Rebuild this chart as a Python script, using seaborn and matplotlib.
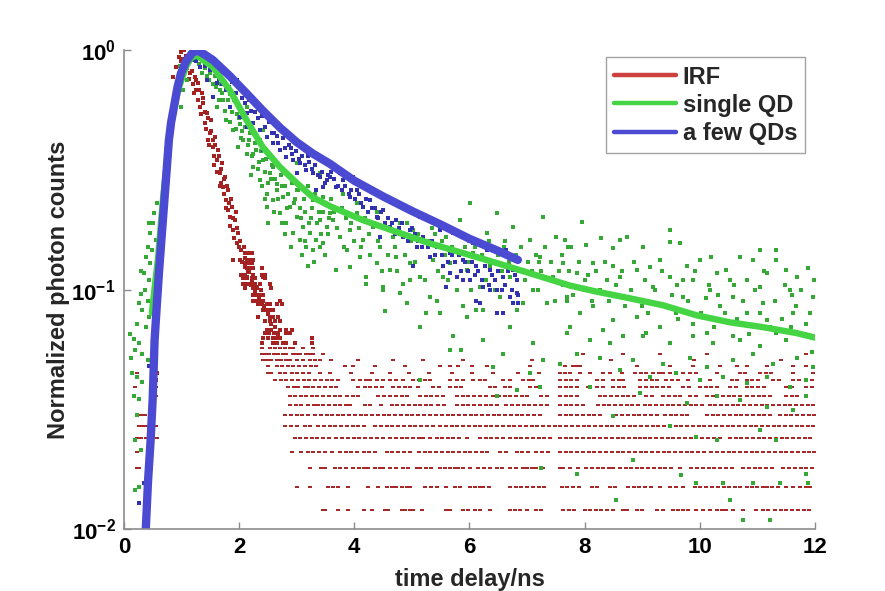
import numpy as np
import pandas as pd
import matplotlib
matplotlib.use("Agg")
import matplotlib.pyplot as plt
from matplotlib.lines import Line2D
from matplotlib.ticker import FuncFormatter, NullFormatter, LogLocator, FixedLocator
import seaborn as sns

# ---------------- data ----------------
series_names = ["IRF", "single QD", "a few QDs"]
x_ticks = [0, 2, 4, 6, 8, 10, 12]
y_ticks = [0.01, 0.1, 1.0]

# IRF: quantised photon counts (1 count = 0.003 of the normalised peak)
irf_count_unit = 0.003
irf_n4 = [3.46, 3.50, 3.72, 3.89, 4.16, 4.30, 4.53, 4.59, 4.82, 4.88, 4.97, 5.02, 5.17, 5.60, 5.66, 5.89, 5.98, 6.09, 6.18, 6.35, 6.70, 6.79, 6.88, 6.99, 7.16, 7.25, 7.62, 7.72, 7.82, 8.00, 8.10, 8.20, 8.29, 8.38, 8.50, 8.67, 8.73, 8.90, 9.00, 9.25, 9.36, 9.54, 9.62, 9.70, 9.80, 9.94, 10.06, 10.17, 10.29, 10.38, 10.46, 10.58, 10.75, 10.98, 11.10, 11.19, 11.30, 11.40, 11.50, 11.60, 11.70, 11.80, 11.90]
irf_n5 = [0.26, 3.00, 3.23, 3.55, 3.63, 3.72, 3.89, 4.24, 4.42, 4.56, 4.65, 4.73, 4.82, 4.91, 4.97, 5.23, 5.33, 5.43, 5.60, 5.75, 5.83, 6.01, 6.09, 6.18, 6.24, 6.33, 6.70, 6.80, 6.90, 7.00, 7.10, 7.20, 7.30, 7.60, 7.70, 7.80, 7.90, 8.12, 8.22, 8.44, 8.52, 8.75, 8.85, 8.95, 9.05, 9.15, 9.30, 9.48, 9.59, 9.71, 9.91, 10.01, 10.11, 10.21, 10.31, 10.41, 10.51, 10.61, 10.69, 10.81, 10.90, 11.00, 11.10, 11.16, 11.26, 11.36, 11.50, 11.62, 11.74, 11.84, 11.92]
irf_n6 = [0.23, 0.27, 3.23, 3.43, 3.49, 3.66, 3.76, 3.86, 3.98, 4.08, 4.16, 4.24, 4.36, 4.44, 4.50, 4.62, 4.73, 4.85, 4.94, 5.08, 5.14, 5.25, 5.34, 5.49, 5.57, 5.66, 5.75, 5.80, 5.89, 6.01, 6.15, 6.25, 6.35, 6.47, 6.57, 6.70, 6.80, 6.93, 6.99, 7.08, 7.16, 7.28, 7.57, 7.63, 7.74, 7.89, 8.03, 8.13, 8.23, 8.32, 8.42, 8.49, 8.61, 8.71, 8.80, 8.90, 9.00, 9.10, 9.20, 9.30, 9.40, 9.50, 9.65, 9.85, 9.95, 10.05, 10.15, 10.25, 10.35, 10.45, 10.55, 10.75, 10.85, 10.95, 11.05, 11.15, 11.25, 11.45, 11.55, 11.65, 11.75, 11.85, 11.95]
irf_n7 = [0.23, 2.91, 3.08, 3.20, 3.29, 3.39, 3.49, 3.61, 3.75, 3.85, 3.95, 4.05, 4.16, 4.26, 4.36, 4.56, 4.66, 4.76, 4.86, 4.96, 5.12, 5.22, 5.32, 5.42, 5.52, 5.62, 5.72, 5.82, 5.92, 6.01, 6.11, 6.21, 6.31, 6.53, 6.63, 6.82, 6.92, 7.02, 7.16, 7.26, 7.36, 7.57, 7.67, 7.77, 7.87, 7.97, 8.07, 8.17, 8.27, 8.37, 8.47, 8.57, 8.67, 8.77, 8.87, 8.97, 9.07, 9.17, 9.27, 9.37, 9.47, 9.57, 9.67, 9.77, 9.87, 9.97, 10.07, 10.20, 10.30, 10.40, 10.50, 10.60, 10.70, 10.80, 10.90, 11.00, 11.10, 11.20, 11.30, 11.40, 11.50, 11.60, 11.70, 11.80, 11.90, 11.98]
irf_n8 = [0.23, 0.30, 0.38, 0.58, 2.97, 3.06, 3.17, 3.26, 3.35, 3.46, 3.56, 3.69, 3.79, 3.89, 3.99, 4.09, 4.19, 4.29, 4.39, 4.50, 4.62, 4.72, 4.82, 4.92, 5.02, 5.12, 5.20, 5.31, 5.43, 5.52, 5.62, 5.72, 5.82, 5.95, 6.18, 6.28, 6.38, 6.48, 6.58, 6.70, 6.80, 6.90, 7.00, 7.11, 7.20, 7.30, 7.40, 7.57, 7.67, 7.77, 7.87, 7.97, 8.07, 8.17, 8.27, 8.37, 8.47, 8.57, 8.67, 8.77, 8.87, 8.96, 9.04, 9.14, 9.24, 9.34, 9.44, 9.54, 9.64, 9.74, 9.84, 9.94, 10.04, 10.14, 10.24, 10.35, 10.52, 10.62, 10.72, 10.82, 10.92, 11.02, 11.12, 11.22, 11.32, 11.42, 11.52, 11.62, 11.72, 11.82, 11.92]
irf_n9 = [0.26, 0.33, 0.40, 0.55, 2.80, 2.90, 3.00, 3.14, 3.23, 3.37, 3.47, 3.57, 3.67, 3.77, 3.87, 3.97, 4.07, 4.17, 4.36, 4.46, 4.56, 4.66, 4.76, 4.86, 4.96, 5.06, 5.16, 5.26, 5.36, 5.49, 5.59, 5.69, 5.79, 5.89, 5.99, 6.09, 6.18, 6.28, 6.38, 6.48, 6.58, 6.68, 6.78, 6.88, 6.98, 7.08, 7.18, 7.28, 7.38, 7.48, 7.58, 7.68, 7.78, 7.88, 7.98, 8.08, 8.18, 8.28, 8.38, 8.48, 8.58, 8.68, 8.78, 8.88, 8.98, 9.08, 9.18, 9.28, 9.38, 9.48, 9.58, 9.68, 9.78, 9.88, 9.98, 10.08, 10.18, 10.28, 10.38, 10.48, 10.58, 10.68, 10.78, 10.88, 10.98, 11.08, 11.18, 11.28, 11.38, 11.48, 11.58, 11.68, 11.78, 11.88, 11.97]
irf_n10 = [0.23, 0.30, 0.37, 2.80, 2.90, 3.00, 3.10, 3.20, 3.32, 3.42, 3.52, 3.62, 3.72, 3.81, 3.91, 4.01, 4.11, 4.21, 4.31, 4.41, 4.51, 4.61, 4.71, 4.81, 4.91, 5.01, 5.11, 5.21, 5.31, 5.41, 5.52, 5.62, 5.72, 5.82, 5.92, 6.02, 6.12, 6.22, 6.32, 6.42, 6.52, 6.62, 6.72, 6.82, 6.92, 7.02, 7.12, 7.22, 7.57, 7.67, 7.77, 7.87, 7.97, 8.07, 8.17, 8.27, 8.55, 8.65, 8.75, 8.85, 8.95, 9.05, 9.15, 9.25, 9.39, 9.49, 9.59, 9.69, 9.77, 10.12, 10.22, 10.32, 10.42, 10.52, 10.62, 10.72, 10.82, 10.92, 11.02, 11.12, 11.22, 11.39, 11.49, 11.59, 11.69, 11.79, 11.89, 11.98]
irf_n11 = [0.52, 2.88, 2.98, 3.08, 3.20, 3.30, 3.37, 3.46, 3.56, 3.66, 3.75, 3.85, 3.92, 4.18, 4.28, 4.47, 4.65, 4.75, 4.85, 4.95, 5.05, 5.14, 5.25, 5.34, 5.46, 5.56, 5.78, 5.88, 5.98, 6.08, 6.18, 6.28, 6.38, 6.48, 6.64, 6.74, 6.84, 6.94, 7.04, 7.14, 7.24, 7.34, 7.57, 7.67, 7.77, 7.87, 7.97, 8.23, 8.33, 8.43, 8.53, 8.63, 8.73, 8.83, 8.93, 9.04, 9.14, 9.24, 9.34, 9.44, 9.54, 9.64, 9.74, 9.84, 9.94, 10.04, 10.17, 10.27, 10.37, 10.47, 10.57, 10.67, 10.77, 10.87, 10.97, 11.07, 11.16, 11.27, 11.37, 11.47, 11.57, 11.67, 11.77, 11.87, 11.97]
irf_n12 = [0.55, 2.88, 2.97, 3.07, 3.17, 3.26, 3.36, 3.46, 3.56, 3.66, 3.75, 3.87, 3.97, 4.07, 4.42, 4.52, 4.62, 4.72, 4.82, 4.92, 5.14, 5.24, 5.34, 5.44, 5.54, 5.78, 5.88, 5.98, 6.08, 6.18, 6.28, 6.41, 6.51, 6.61, 6.71, 6.81, 6.91, 6.99, 7.25, 7.34, 7.57, 7.67, 7.77, 7.87, 8.26, 8.36, 8.46, 8.56, 8.66, 8.76, 8.86, 9.07, 9.17, 9.36, 9.46, 9.56, 9.65, 9.83, 9.93, 10.12, 10.22, 10.29, 10.40, 10.50, 10.60, 10.70, 10.81, 10.92, 11.02, 11.12, 11.22, 11.50, 11.60, 11.68]
irf_n13 = [0.20, 0.55, 2.85, 2.95, 3.03, 3.14, 3.20, 3.29, 3.38, 3.49, 3.59, 3.69, 4.07, 4.18, 4.28, 4.38, 4.48, 4.68, 4.78, 4.88, 4.97, 5.11, 5.37, 5.47, 5.66, 5.76, 5.86, 6.35, 6.45, 6.61, 6.70, 7.05, 7.15, 7.57, 7.67, 7.77, 7.86, 8.06, 8.21, 8.31, 8.49, 8.59, 8.69, 8.96, 9.06, 9.16, 9.25, 9.36, 9.46, 9.71, 9.81, 10.00, 10.10, 10.20, 10.29, 10.52, 10.62, 10.81, 10.91, 11.01, 11.11, 11.50, 11.60, 11.85, 11.95]
irf_n14 = [0.55, 2.62, 2.72, 2.82, 2.92, 3.02, 3.12, 3.22, 3.32, 3.42, 3.52, 3.62, 3.72, 3.98, 4.10, 4.20, 4.27, 4.39, 4.50, 4.62, 4.73, 4.85, 5.02, 5.12, 5.22, 5.32, 5.66, 5.78, 5.89, 6.06, 6.18, 6.27, 6.59, 6.70, 6.93, 7.03, 7.11, 7.57, 7.67, 7.77, 7.86, 8.21, 8.32, 8.49, 8.59, 8.67, 8.96, 9.06, 9.16, 9.26, 9.42, 9.52, 9.62, 9.80, 10.17, 10.55, 10.64, 10.81, 10.91, 11.01, 11.27, 11.37, 11.62, 11.72, 11.85, 11.95]
irf_n15 = [0.23, 0.58, 2.51, 2.56, 2.71, 2.80, 2.91, 3.01, 3.11, 3.21, 3.40, 3.58, 3.95, 4.30, 4.62, 4.95, 5.30, 5.70, 6.05, 6.40, 6.85, 7.20, 7.57, 7.65, 7.74, 7.92, 8.09, 8.32, 8.44, 8.64, 8.87, 8.97, 9.07, 9.19, 9.29, 9.36, 9.48, 9.71, 9.83, 9.94, 10.29, 10.69, 10.79, 11.04, 11.14, 11.24, 11.62, 11.97]
irf_n16 = [2.51, 2.65, 2.75, 2.85, 2.94, 3.04, 3.14, 3.24, 3.34, 3.84, 3.98, 4.36, 4.88, 5.49, 5.66, 5.80, 6.04, 6.30, 7.05, 7.66, 7.80, 7.86, 7.92, 8.90, 9.48, 9.88, 10.12, 10.35, 10.64, 10.81, 11.16, 11.62, 11.85]
irf_n17 = [2.42, 2.48, 2.56, 2.65, 2.73, 2.81, 2.88, 3.00, 3.11, 3.23, 3.32, 3.40, 3.60, 4.07, 4.68, 5.20, 5.89, 7.08, 8.45, 9.90, 11.40]
irf_n18 = [2.39, 2.45, 2.52, 2.60, 2.68, 2.76, 2.82, 2.94, 3.00, 3.06, 3.17, 3.23, 3.29, 3.46, 7.97, 8.67, 9.30, 10.12, 11.85]
irf_n19 = [2.40, 2.53, 2.62, 2.71, 2.80, 2.88, 2.94, 3.11, 3.29]

# IRF peak and decay (time ns, normalised counts)
irf_decay_pts = [(0.58, 0.045), (0.55, 0.042), (0.85, 0.77), (0.90, 0.85), (0.95, 0.94), (1.00, 0.98), (1.02, 0.92), (1.05, 1.0), (1.07, 0.95), (1.03, 0.85),
                 (1.09, 0.91), (1.15, 0.80), (1.12, 0.88), (1.23, 0.77), (1.29, 0.73), (1.26, 0.68), (1.20, 0.72), (1.35, 0.66), (1.38, 0.60), (1.32, 0.58),
                 (1.44, 0.545), (1.41, 0.495), (1.52, 0.51), (1.49, 0.45), (1.46, 0.42), (1.58, 0.434), (1.55, 0.394), (1.64, 0.382), (1.61, 0.347), (1.57, 0.36),
                 (1.70, 0.337), (1.67, 0.306), (1.75, 0.295), (1.72, 0.268), (1.68, 0.28), (1.81, 0.26), (1.78, 0.236), (1.87, 0.222), (1.84, 0.201), (1.80, 0.215),
                 (1.93, 0.195), (1.90, 0.177), (1.98, 0.172), (1.96, 0.156), (2.04, 0.146), (2.01, 0.133), (1.90, 0.133), (2.10, 0.124), (2.13, 0.113), (2.22, 0.110),
                 (2.30, 0.103), (2.42, 0.113), (2.10, 0.142), (2.16, 0.142), (2.22, 0.142), (2.13, 0.133), (2.19, 0.133), (2.25, 0.133), (2.10, 0.129), (2.16, 0.129),
                 (2.22, 0.129), (2.13, 0.123), (2.19, 0.123), (2.25, 0.123), (2.39, 0.123), (2.04, 0.115), (2.10, 0.115), (2.25, 0.115), (2.39, 0.115), (2.45, 0.115),
                 (2.07, 0.112), (2.13, 0.112), (2.22, 0.112), (2.28, 0.112), (2.45, 0.112), (2.07, 0.106), (2.14, 0.106), (2.21, 0.106), (2.28, 0.106), (2.36, 0.106),
                 (2.53, 0.106), (2.10, 0.102), (2.25, 0.102), (2.31, 0.102), (2.56, 0.102), (2.25, 0.095), (2.31, 0.095), (2.36, 0.095), (2.42, 0.095), (2.25, 0.090),
                 (2.31, 0.090), (2.37, 0.090), (2.42, 0.090), (2.71, 0.090), (2.33, 0.087), (2.40, 0.087), (2.48, 0.087), (2.53, 0.087), (2.65, 0.087), (2.74, 0.087),
                 (2.42, 0.082), (2.48, 0.082), (2.53, 0.082), (2.59, 0.082), (2.33, 0.077), (2.53, 0.077), (2.59, 0.077), (2.68, 0.077), (2.45, 0.074), (2.53, 0.074),
                 (2.62, 0.074), (2.71, 0.074), (2.48, 0.068), (2.56, 0.068), (2.71, 0.068), (2.82, 0.068), (2.91, 0.068), (2.45, 0.066), (2.52, 0.066), (2.60, 0.066),
                 (2.65, 0.066), (2.82, 0.066), (2.88, 0.066), (2.42, 0.063), (2.50, 0.063), (2.58, 0.063), (2.65, 0.063), (2.71, 0.063), (3.26, 0.063), (2.39, 0.060),
                 (2.59, 0.060), (2.65, 0.060), (2.77, 0.060), (2.82, 0.060), (2.97, 0.060), (3.26, 0.060)]
irf_decay_more = [(1.00, 0.90), (1.05, 0.88), (1.10, 0.84), (1.13, 0.76), (1.18, 0.82), (1.22, 0.66), (1.25, 0.75), (1.28, 0.62), (1.31, 0.68), (1.34, 0.54),
                  (1.37, 0.63), (1.40, 0.55), (1.43, 0.47), (1.46, 0.52), (1.48, 0.40), (1.51, 0.46), (1.54, 0.42), (1.56, 0.33), (1.59, 0.40), (1.62, 0.31),
                  (1.65, 0.36), (1.66, 0.27), (1.69, 0.32), (1.73, 0.25), (1.74, 0.29), (1.77, 0.22), (1.79, 0.27), (1.82, 0.23), (1.85, 0.185), (1.86, 0.24),
                  (1.89, 0.20), (1.92, 0.165), (1.94, 0.21), (1.97, 0.18), (1.99, 0.15), (2.02, 0.16), (2.05, 0.13), (2.08, 0.15), (2.11, 0.135), (2.15, 0.12),
                  (2.18, 0.118), (2.20, 0.105), (2.27, 0.098), (2.34, 0.092), (2.38, 0.100), (2.44, 0.085), (2.50, 0.079), (2.56, 0.072), (2.62, 0.070), (2.68, 0.065)]

# single QD measured points
green_rise_pts = [(0.58, 0.229), (0.52, 0.208), (0.43, 0.189), (0.46, 0.172), (0.41, 0.151), (0.49, 0.146), (0.55, 0.161), (0.38, 0.137), (0.46, 0.129), (0.35, 0.117),
                  (0.43, 0.110), (0.29, 0.096), (0.26, 0.088), (0.41, 0.090), (0.32, 0.082), (0.43, 0.077), (0.23, 0.072), (0.38, 0.070), (0.17, 0.062), (0.26, 0.060),
                  (0.20, 0.056), (0.32, 0.054), (0.41, 0.051), (0.14, 0.045), (0.23, 0.043), (0.32, 0.041), (0.17, 0.036), (0.26, 0.035), (0.23, 0.030), (0.20, 0.0235),
                  (0.29, 0.0214), (0.26, 0.0150), (0.20, 0.0146), (0.12, 0.052), (0.10, 0.065), (0.30, 0.12), (0.36, 0.10), (0.50, 0.19), (0.98, 0.86), (1.05, 0.90),
                  (1.10, 0.93), (1.15, 0.95), (1.20, 0.92)]
green_peak_pts = [(1.03, 0.68), (1.00, 0.58), (1.09, 0.75), (1.55, 0.726), (1.67, 0.68), (1.72, 0.618), (1.61, 0.58), (1.84, 0.58), (1.78, 0.51), (1.96, 0.544),
                  (1.90, 0.463), (2.01, 0.494), (2.07, 0.421), (1.98, 0.395), (2.19, 0.449), (2.13, 0.37), (2.30, 0.382), (2.24, 0.326), (2.42, 0.347), (2.36, 0.287),
                  (2.53, 0.306), (2.48, 0.252), (2.65, 0.277), (2.59, 0.236), (2.48, 0.222), (2.77, 0.244), (2.71, 0.208), (2.88, 0.222), (2.82, 0.189), (3.00, 0.201),
                  (2.94, 0.172), (3.11, 0.183), (3.06, 0.161), (3.23, 0.172), (3.17, 0.151), (3.34, 0.161), (3.29, 0.146), (3.46, 0.156), (3.52, 0.183), (3.40, 0.195),
                  (2.59, 0.326), (2.36, 0.421), (3.00, 0.26), (3.29, 0.236), (3.46, 0.244), (3.58, 0.208), (1.84, 0.659), (2.13, 0.58), (2.42, 0.463), (2.71, 0.382),
                  (3.00, 0.337), (3.40, 0.306), (1.30, 0.88), (1.40, 0.84), (1.45, 0.78), (1.50, 0.80), (1.60, 0.70), (1.70, 0.66), (1.75, 0.56), (1.85, 0.50),
                  (1.95, 0.47), (2.05, 0.46), (2.15, 0.40), (2.25, 0.37), (2.35, 0.34), (2.45, 0.31), (2.55, 0.29), (2.65, 0.26), (2.75, 0.27), (2.85, 0.25),
                  (2.95, 0.23), (3.05, 0.22), (3.15, 0.21), (3.25, 0.20), (3.35, 0.19), (3.45, 0.21), (3.55, 0.17), (2.20, 0.30), (2.40, 0.27), (2.60, 0.21),
                  (2.80, 0.17), (3.10, 0.14), (3.30, 0.13), (3.50, 0.14), (2.90, 0.15), (2.50, 0.19), (3.20, 0.125)]
green_peak_more = [(1.35, 0.80), (1.42, 0.88), (1.48, 0.75), (1.58, 0.78), (1.65, 0.62), (1.68, 0.72), (1.80, 0.62), (1.88, 0.55), (1.92, 0.62), (2.00, 0.52),
                   (2.03, 0.43), (2.10, 0.48), (2.18, 0.42), (2.22, 0.36), (2.28, 0.41), (2.33, 0.32), (2.38, 0.38), (2.46, 0.35), (2.50, 0.28), (2.57, 0.33),
                   (2.62, 0.29), (2.68, 0.24), (2.73, 0.30), (2.79, 0.27), (2.84, 0.22), (2.92, 0.28), (2.97, 0.24), (3.03, 0.26), (3.08, 0.20), (3.13, 0.24),
                   (3.19, 0.27), (3.22, 0.19), (3.27, 0.22), (3.32, 0.25), (3.38, 0.21), (3.43, 0.17), (3.48, 0.23), (3.56, 0.20), (3.15, 0.16), (2.75, 0.19),
                   (2.45, 0.24), (3.40, 0.15)]
green_mid_pts = [(3.63, 0.195), (3.75, 0.166), (3.87, 0.146), (3.69, 0.121), (3.92, 0.177), (4.04, 0.208), (4.10, 0.137), (4.15, 0.161), (4.21, 0.113), (4.33, 0.183),
                 (4.39, 0.129), (4.44, 0.151), (4.50, 0.103), (4.62, 0.121), (4.68, 0.166), (4.73, 0.137), (4.85, 0.106), (4.91, 0.0875), (4.96, 0.129), (5.02, 0.177),
                 (5.08, 0.151), (5.14, 0.113), (5.25, 0.201), (5.31, 0.093), (5.37, 0.133), (5.49, 0.080), (5.54, 0.113), (5.60, 0.166), (5.66, 0.129), (5.78, 0.0995),
                 (5.83, 0.195), (5.89, 0.085), (5.95, 0.121), (6.01, 0.229), (6.06, 0.142), (6.18, 0.103), (6.24, 0.082), (6.30, 0.172), (6.35, 0.125), (6.47, 0.208),
                 (6.53, 0.093), (6.59, 0.146), (6.70, 0.113), (6.76, 0.183), (6.82, 0.082), (6.93, 0.121), (7.05, 0.161), (7.11, 0.0995), (7.22, 0.137), (7.28, 0.201),
                 (7.34, 0.0875), (7.45, 0.113), (7.51, 0.166), (7.63, 0.129), (7.69, 0.093), (7.71, 0.151), (3.92, 0.124), (4.21, 0.106), (4.50, 0.0995), (4.53, 0.081),
                 (4.79, 0.0965), (4.97, 0.110), (5.14, 0.070), (5.25, 0.080), (5.43, 0.090), (5.66, 0.056), (5.72, 0.064), (5.86, 0.056), (5.95, 0.077), (6.12, 0.082),
                 (6.24, 0.0615), (6.41, 0.0477), (6.59, 0.054), (6.70, 0.070), (6.82, 0.038), (6.93, 0.0875), (7.05, 0.045), (7.11, 0.060), (7.22, 0.039), (7.28, 0.0508),
                 (7.25, 0.018), (5.14, 0.042), (6.47, 0.036), (3.80, 0.25), (4.30, 0.22), (4.80, 0.19), (5.40, 0.17), (6.00, 0.16), (6.60, 0.15), (7.20, 0.13)]
green_mid_more = [(3.60, 0.24), (3.65, 0.21), (3.70, 0.18), (3.78, 0.22), (3.82, 0.15), (3.85, 0.20), (3.95, 0.19), (4.00, 0.16), (4.05, 0.23), (4.08, 0.18),
                  (4.12, 0.15), (4.18, 0.20), (4.25, 0.17), (4.28, 0.14), (4.35, 0.19), (4.40, 0.21), (4.42, 0.16), (4.48, 0.12), (4.55, 0.18), (4.58, 0.14),
                  (4.65, 0.19), (4.70, 0.15), (4.75, 0.12), (4.80, 0.17), (4.88, 0.14), (4.92, 0.19), (4.98, 0.16), (5.05, 0.13), (5.10, 0.17), (5.18, 0.15),
                  (5.22, 0.11), (5.28, 0.16), (5.35, 0.18), (5.40, 0.14), (5.45, 0.12), (5.52, 0.16), (5.58, 0.14), (5.62, 0.11), (5.70, 0.15), (5.75, 0.13),
                  (5.80, 0.17), (5.86, 0.12), (5.92, 0.15), (5.98, 0.13), (6.03, 0.10), (6.10, 0.15), (6.15, 0.12), (6.22, 0.14), (6.28, 0.11), (6.33, 0.16),
                  (6.40, 0.13), (6.45, 0.10), (6.50, 0.14), (6.56, 0.12), (6.62, 0.16), (6.68, 0.13), (6.73, 0.10), (6.80, 0.14), (6.86, 0.12), (6.90, 0.15),
                  (6.97, 0.11), (7.02, 0.13), (7.08, 0.12), (7.15, 0.14), (7.19, 0.10), (7.25, 0.12), (7.31, 0.15), (7.38, 0.11), (7.42, 0.13), (7.48, 0.09),
                  (7.55, 0.12), (7.60, 0.14)]
green_tail_pts = [(7.95, 0.192), (9.48, 0.177), (8.73, 0.166), (8.29, 0.164), (7.66, 0.161), (9.48, 0.158), (9.65, 0.156), (8.61, 0.161), (8.03, 0.153), (9.02, 0.151),
                  (11.04, 0.146), (11.33, 0.146), (8.49, 0.149), (7.77, 0.151), (10.20, 0.137), (10.69, 0.137), (10.93, 0.133), (11.33, 0.133), (10.00, 0.133), (9.30, 0.133),
                  (11.88, 0.123), (11.50, 0.121), (10.46, 0.121), (9.77, 0.126), (9.13, 0.124), (8.15, 0.129), (8.90, 0.121), (10.29, 0.117), (11.16, 0.117), (11.68, 0.113),
                  (10.81, 0.110), (9.88, 0.110), (9.48, 0.113), (8.61, 0.113), (7.86, 0.117), (8.38, 0.110), (9.19, 0.103), (11.04, 0.103), (10.17, 0.0995), (11.56, 0.0995),
                  (11.97, 0.093), (10.58, 0.093), (9.71, 0.093), (7.69, 0.090), (8.15, 0.085), (7.92, 0.080), (8.49, 0.0746), (8.90, 0.077), (9.30, 0.070), (9.59, 0.080),
                  (9.88, 0.072), (10.35, 0.085), (10.81, 0.080), (11.16, 0.0746), (11.62, 0.080), (11.85, 0.072), (8.32, 0.068), (9.07, 0.066), (10.12, 0.066), (10.58, 0.064),
                  (11.33, 0.066), (7.74, 0.070), (8.67, 0.064), (7.69, 0.066), (8.09, 0.0615), (8.44, 0.060), (9.02, 0.064), (9.48, 0.060), (9.88, 0.064), (10.23, 0.060),
                  (10.69, 0.0615), (11.04, 0.058), (11.50, 0.0615), (11.85, 0.064), (7.86, 0.054), (8.26, 0.052), (8.84, 0.0508), (9.36, 0.049), (9.83, 0.052), (10.12, 0.0477),
                  (10.58, 0.0508), (10.92, 0.054), (11.27, 0.049), (11.68, 0.052), (11.97, 0.0477), (7.57, 0.049), (8.61, 0.046), (9.13, 0.0433), (9.59, 0.0447), (10.00, 0.042),
                  (10.40, 0.0433), (10.81, 0.0406), (11.16, 0.0433), (11.56, 0.039), (11.85, 0.042), (8.09, 0.039), (8.96, 0.037), (9.77, 0.0335), (10.29, 0.036), (10.69, 0.0346),
                  (11.16, 0.0324), (11.62, 0.0313), (8.49, 0.0295), (9.48, 0.0268), (9.94, 0.0243), (10.29, 0.0235), (11.04, 0.026), (11.33, 0.0235), (8.84, 0.0194), (9.94, 0.0155),
                  (10.40, 0.0155), (10.92, 0.0155), (11.39, 0.0155), (8.55, 0.0132), (10.52, 0.0132), (10.75, 0.0109), (11.21, 0.0109), (11.85, 0.017), (7.86, 0.017), (11.85, 0.036),
                  (9.68, 0.0168), (11.88, 0.0155), (8.00, 0.11), (8.50, 0.125), (9.00, 0.085), (9.60, 0.105), (10.10, 0.092), (10.60, 0.105), (11.10, 0.088), (11.60, 0.095)]
green_tail_more = [(7.62, 0.105), (7.72, 0.12), (7.80, 0.095), (7.90, 0.13), (7.98, 0.10), (8.05, 0.115), (8.12, 0.09), (8.20, 0.12), (8.26, 0.10), (8.35, 0.13),
                   (8.42, 0.09), (8.55, 0.105), (8.65, 0.12), (8.70, 0.085), (8.80, 0.10), (8.85, 0.13), (8.95, 0.09), (9.05, 0.11), (9.10, 0.08), (9.22, 0.10),
                   (9.34, 0.12), (9.40, 0.085), (9.52, 0.095), (9.62, 0.075), (9.70, 0.11), (9.80, 0.09), (9.92, 0.12), (10.02, 0.08), (10.15, 0.105), (10.25, 0.07),
                   (10.32, 0.095), (10.44, 0.08), (10.52, 0.11), (10.64, 0.075), (10.75, 0.09), (10.85, 0.065), (10.95, 0.10), (11.05, 0.08), (11.12, 0.12), (11.22, 0.07),
                   (11.30, 0.09), (11.42, 0.075), (11.48, 0.105), (11.58, 0.07), (11.66, 0.085), (11.75, 0.10), (11.82, 0.065), (11.92, 0.08), (11.98, 0.11), (11.95, 0.055)]

# a few QDs measured points
blue_pts = [(0.26, 0.0128), (0.35, 0.0155), (0.43, 0.048), (1.14, 0.95), (1.20, 0.908), (1.32, 0.85), (1.38, 0.908), (1.44, 0.75), (1.49, 0.825), (1.55, 0.64),
            (1.61, 0.728), (1.67, 0.80), (1.72, 0.75), (1.78, 0.68), (1.84, 0.58), (1.90, 0.64), (1.96, 0.75), (2.01, 0.58), (2.01, 0.525), (2.13, 0.545),
            (2.13, 0.477), (2.24, 0.495), (2.30, 0.434), (2.36, 0.463), (2.42, 0.382), (2.48, 0.434), (2.53, 0.358), (2.59, 0.409), (2.71, 0.382), (2.82, 0.358),
            (2.94, 0.347), (3.00, 0.306), (3.06, 0.337), (3.17, 0.315), (3.29, 0.306), (3.34, 0.26), (3.40, 0.295), (3.46, 0.268), (3.52, 0.287), (3.58, 0.296),
            (3.69, 0.269), (3.81, 0.287), (3.92, 0.244), (4.04, 0.26), (4.15, 0.222), (4.27, 0.236), (4.39, 0.201), (4.50, 0.215), (4.62, 0.183), (4.73, 0.195),
            (4.85, 0.166), (4.96, 0.177), (5.08, 0.151), (5.20, 0.166), (5.31, 0.137), (5.43, 0.151), (5.54, 0.125), (5.66, 0.142), (5.78, 0.113), (5.89, 0.133),
            (6.01, 0.110), (6.12, 0.125), (6.24, 0.103), (6.35, 0.121), (6.47, 0.0995), (6.59, 0.113), (6.70, 0.093), (6.82, 0.110), (6.85, 0.0875), (6.76, 0.121),
            (3.87, 0.208), (4.44, 0.166), (5.02, 0.125), (5.60, 0.103), (6.18, 0.0875), (3.75, 0.306), (4.33, 0.26), (4.91, 0.215), (5.49, 0.177), (6.06, 0.156),
            (6.64, 0.146), (3.98, 0.296), (4.56, 0.244), (5.14, 0.201), (5.72, 0.172), (6.30, 0.146), (5.89, 0.110), (6.35, 0.0995), (6.59, 0.080), (6.47, 0.080),
            (6.76, 0.0875), (6.82, 0.0965), (6.12, 0.090), (5.66, 0.117), (1.70, 0.72), (2.20, 0.56), (2.60, 0.45), (2.90, 0.39), (3.20, 0.36), (3.60, 0.31)]
blue_more = [(1.25, 0.90), (1.30, 0.95), (1.40, 0.86), (1.50, 0.88), (1.58, 0.82), (1.65, 0.76), (1.75, 0.73), (1.82, 0.70), (1.88, 0.74), (1.94, 0.66),
             (2.05, 0.63), (2.10, 0.60), (2.17, 0.62), (2.27, 0.55), (2.33, 0.52), (2.39, 0.53), (2.45, 0.48), (2.52, 0.50), (2.57, 0.45), (2.65, 0.44),
             (2.68, 0.41), (2.76, 0.43), (2.80, 0.39), (2.86, 0.40), (2.92, 0.37), (2.98, 0.38), (3.04, 0.35), (3.10, 0.36), (3.14, 0.33), (3.22, 0.34),
             (3.26, 0.32), (3.32, 0.33), (3.37, 0.30), (3.44, 0.31), (3.50, 0.28), (3.55, 0.30), (3.64, 0.29), (3.72, 0.27), (3.78, 0.26), (3.84, 0.27),
             (3.90, 0.25), (3.95, 0.26), (4.02, 0.24), (4.08, 0.25), (4.12, 0.23), (4.20, 0.24), (4.24, 0.21), (4.30, 0.22), (4.36, 0.22), (4.42, 0.20),
             (4.47, 0.21), (4.53, 0.19), (4.58, 0.20), (4.66, 0.19), (4.70, 0.17), (4.78, 0.18), (4.82, 0.19), (4.88, 0.17), (4.93, 0.16), (5.00, 0.18),
             (5.05, 0.17), (5.11, 0.16), (5.17, 0.15), (5.23, 0.16), (5.28, 0.15), (5.35, 0.16), (5.40, 0.14), (5.46, 0.15), (5.52, 0.14), (5.57, 0.15),
             (5.63, 0.13), (5.69, 0.14), (5.75, 0.13), (5.81, 0.14), (5.86, 0.12), (5.93, 0.13), (5.98, 0.12), (6.04, 0.13), (6.09, 0.115), (6.15, 0.12),
             (6.21, 0.11), (6.27, 0.125), (6.33, 0.105), (6.39, 0.115), (6.44, 0.11), (6.50, 0.12), (6.56, 0.10), (6.62, 0.105), (6.67, 0.12), (6.73, 0.10),
             (6.79, 0.115), (6.84, 0.095)]

# fitted decay curves
green_fit_t = [0.486, 0.54, 0.59, 0.677, 0.74, 0.80, 0.87, 0.94, 1.08, 1.17, 1.26, 1.545, 1.84, 2.13, 2.41, 2.71, 3.00, 3.28, 3.58, 4.15, 4.74, 5.31, 5.89, 6.48, 7.05, 7.74, 8.21, 8.78, 9.36, 9.95, 10.52, 11.09, 11.68, 12.0]
green_fit_y = [0.080, 0.105, 0.133, 0.236, 0.33, 0.463, 0.57, 0.68, 0.857, 0.93, 0.953, 0.85, 0.68, 0.51, 0.394, 0.325, 0.279, 0.243, 0.223, 0.195, 0.174, 0.156, 0.142, 0.129, 0.117, 0.104, 0.098, 0.092, 0.086, 0.078, 0.073, 0.0697, 0.0658, 0.063]
blue_fit_t = [0.38, 0.42, 0.464, 0.50, 0.533, 0.57, 0.608, 0.65, 0.694, 0.74, 0.781, 0.82, 0.868, 0.93, 0.99, 1.08, 1.18, 1.27, 1.40, 1.545, 1.84, 2.13, 2.41, 2.71, 3.00, 3.28, 3.58, 4.00, 4.50, 5.00, 5.50, 6.00, 6.50, 6.84]
blue_fit_y = [0.0100, 0.016, 0.0235, 0.035, 0.0615, 0.085, 0.117, 0.16, 0.221, 0.31, 0.421, 0.50, 0.578, 0.70, 0.80, 0.90, 0.97, 1.0, 0.96, 0.91, 0.78, 0.66, 0.56, 0.475, 0.413, 0.37, 0.335, 0.285, 0.245, 0.213, 0.187, 0.163, 0.145, 0.133]

# ---------------- build tables ----------------
irf_levels = [(4, irf_n4), (5, irf_n5), (6, irf_n6), (7, irf_n7), (8, irf_n8), (9, irf_n9), (10, irf_n10), (11, irf_n11),
              (12, irf_n12), (13, irf_n13), (14, irf_n14), (15, irf_n15), (16, irf_n16), (17, irf_n17), (18, irf_n18), (19, irf_n19)]
floor_df = pd.DataFrame([(t, n * irf_count_unit) for n, ts in irf_levels for t in ts], columns=["t", "y"])
irf_df = pd.DataFrame(irf_decay_pts + irf_decay_more, columns=["t", "y"])
green_df = pd.DataFrame(green_rise_pts + green_peak_pts + green_peak_more + green_mid_pts + green_mid_more
                        + green_tail_pts + green_tail_more, columns=["t", "y"])
blue_df = pd.DataFrame(blue_pts + blue_more, columns=["t", "y"])
gfit_df = pd.DataFrame({"t": green_fit_t, "y": green_fit_y})
bfit_df = pd.DataFrame({"t": blue_fit_t, "y": blue_fit_y})

# ---------------- style ----------------
sns.set_theme(style="white")
plt.rcParams["font.family"] = ["Liberation Sans", "DejaVu Sans"]
plt.rcParams["font.weight"] = "bold"
plt.rcParams["mathtext.fontset"] = "custom"
plt.rcParams["mathtext.rm"] = "Liberation Sans:bold"
plt.rcParams["mathtext.it"] = "Liberation Sans:bold"
plt.rcParams["mathtext.bf"] = "Liberation Sans:bold"
plt.rcParams["mathtext.default"] = "rm"

red_dot = "#a52222"
red_leg = "#cc4040"
green_dot = "#35a835"
green_line = "#44d444"
blue_dot = "#3232b0"
blue_line = "#4a4ad2"

fig = plt.figure(figsize=(8.85, 5.91), dpi=100)
ax = fig.add_axes([0.140, 0.105, 0.781, 0.810])

sns.scatterplot(data=floor_df, x="t", y="y", marker="_", s=10, linewidth=1.4, color=red_dot, ax=ax, legend=False)
sns.scatterplot(data=irf_df, x="t", y="y", marker="s", s=5, linewidth=0, color=red_dot, ax=ax, legend=False)
sns.scatterplot(data=green_df, x="t", y="y", marker="s", s=5, linewidth=0, color=green_dot, ax=ax, legend=False)
sns.scatterplot(data=blue_df, x="t", y="y", marker="s", s=5, linewidth=0, color=blue_dot, ax=ax, legend=False)
sns.lineplot(data=gfit_df, x="t", y="y", sort=False, estimator=None, color=green_line, lw=4.6, ax=ax, legend=False)
sns.lineplot(data=bfit_df, x="t", y="y", sort=False, estimator=None, color=blue_line, lw=6.0, ax=ax, legend=False)

ax.set_yscale("log")
ax.set_xlim(0, 12)
ax.set_ylim(0.01, 1.0)
ax.xaxis.set_major_locator(FixedLocator(x_ticks))
ax.yaxis.set_major_locator(FixedLocator(y_ticks))
ax.yaxis.set_minor_locator(LogLocator(base=10, subs=np.arange(2, 10)))
ax.yaxis.set_major_formatter(FuncFormatter(lambda v, p: r"$10^{%d}$" % int(round(np.log10(v)))))
ax.yaxis.set_minor_formatter(NullFormatter())
ax.xaxis.set_major_formatter(FuncFormatter(lambda v, p: "%d" % v))

for side in ["top", "right"]:
    ax.spines[side].set_visible(False)
for side in ["left", "bottom"]:
    ax.spines[side].set_color("#8c8c8c")
    ax.spines[side].set_linewidth(1.2)
ax.tick_params(axis="both", which="both", direction="in", colors="#8c8c8c", labelcolor="black", labelsize=16)
ax.tick_params(axis="both", which="major", length=5, width=1.0, pad=6)
ax.tick_params(axis="y", which="minor", length=3, width=0.8)
ax.tick_params(left=True, bottom=True)

ax.set_xlabel("time delay/ns", fontsize=17, fontweight="bold", labelpad=7)
ax.set_ylabel("Normalized photon counts", fontsize=17, fontweight="bold", labelpad=1)

handles = [Line2D([], [], color=red_leg, lw=3.2), Line2D([], [], color=green_line, lw=3.2), Line2D([], [], color=blue_line, lw=3.2)]
leg = ax.legend(handles, series_names, loc="upper right", bbox_to_anchor=(1.003, 1.01), frameon=True, fancybox=False,
                edgecolor="#8c8c8c", handlelength=2.6, handletextpad=0.3, labelspacing=0.22, borderpad=0.35,
                prop={"weight": "bold", "size": 17})
leg.get_frame().set_linewidth(1.0)

fig.savefig("out.png", dpi=100, facecolor="white")
